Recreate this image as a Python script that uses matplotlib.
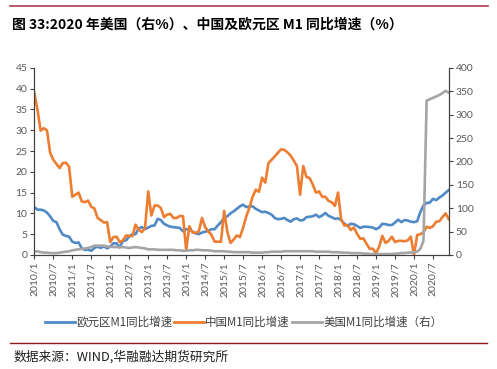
import numpy as np
import matplotlib
matplotlib.use("Agg")
import matplotlib.pyplot as plt
from matplotlib.lines import Line2D

plt.rcParams['font.family'] = ['Noto Sans CJK SC', 'DejaVu Sans']

# monthly, 2010/1 .. 2020/12
months = [f"{y}/{m}" for y in range(2010, 2021) for m in range(1, 13)]

euro_m1 = [11.5, 10.9, 10.9, 10.7, 10.2, 9.3, 8.2, 7.9, 6.2, 4.9, 4.6, 4.4,
           3.2, 2.9, 3.0, 1.6, 1.2, 1.3, 1.0, 1.7, 2.0, 1.7, 2.1, 1.6,
           2.0, 2.8, 2.8, 1.8, 3.4, 3.5, 4.5, 5.0, 5.0, 6.4, 6.7, 6.2,
           6.6, 7.0, 7.1, 8.7, 8.4, 7.5, 7.1, 6.8, 6.7, 6.6, 6.5, 5.7,
           6.2, 6.2, 5.6, 5.2, 5.0, 5.4, 5.6, 5.8, 6.2, 6.2, 7.1, 7.9,
           9.0, 9.3, 10.0, 10.5, 11.1, 11.7, 12.1, 11.5, 11.7, 11.7, 11.1, 10.7,
           10.3, 10.4, 10.1, 9.7, 8.9, 8.6, 8.7, 8.9, 8.4, 8.0, 8.6, 8.8,
           8.3, 8.4, 9.1, 9.2, 9.3, 9.7, 9.1, 9.5, 10.1, 9.4, 9.1, 8.7,
           8.8, 8.4, 7.5, 7.0, 7.5, 7.4, 7.0, 6.5, 6.8, 6.8, 6.7, 6.6,
           6.2, 6.6, 7.5, 7.4, 7.2, 7.2, 7.8, 8.5, 7.9, 8.4, 8.3, 8.0,
           7.9, 8.1, 10.3, 11.9, 12.5, 12.6, 13.5, 13.2, 13.8, 14.3, 15.0, 15.6]

china_m1 = [39.0, 35.0, 29.9, 30.5, 30.0, 24.6, 22.9, 21.9, 20.9, 22.1, 22.2, 21.2,
            14.0, 14.5, 15.0, 12.9, 12.7, 13.1, 11.6, 11.2, 8.9, 8.4, 7.8, 7.9,
            3.1, 4.3, 4.4, 3.1, 3.5, 4.7, 4.6, 4.5, 7.3, 6.1, 5.5, 6.5,
            15.3, 9.5, 11.9, 11.9, 11.3, 9.1, 9.7, 9.9, 8.9, 8.9, 9.4, 9.3,
            1.2, 6.9, 5.4, 5.3, 5.7, 8.9, 6.7, 5.7, 4.8, 3.2, 3.2, 3.2,
            10.6, 5.6, 2.9, 3.7, 4.7, 4.3, 6.6, 9.3, 11.4, 14.0, 15.7, 15.2,
            18.6, 17.4, 22.1, 22.9, 23.7, 24.6, 25.4, 25.3, 24.7, 23.9, 22.7, 21.4,
            14.5, 21.4, 18.8, 18.5, 17.0, 15.0, 15.3, 14.0, 14.0, 13.0, 12.7, 11.8,
            15.0, 8.5, 7.1, 7.2, 6.0, 6.6, 5.1, 3.9, 4.0, 2.7, 1.5, 1.5,
            0.4, 2.0, 4.6, 2.9, 3.4, 4.4, 3.1, 3.4, 3.4, 3.3, 3.5, 4.4,
            0.0, 4.8, 5.0, 5.5, 6.8, 6.5, 6.9, 8.0, 8.1, 9.1, 10.0, 8.6]

us_m1 = [7, 8, 6, 5, 5, 4, 4, 4, 5, 6, 7, 8,
         10, 11, 12, 13, 14, 15, 17, 20, 20, 20, 20, 18,
         18, 17, 17, 17, 17, 16, 15, 16, 17, 16, 15, 14,
         12, 12, 12, 11, 11, 11, 11, 11, 11, 10, 10, 9,
         9, 10, 10, 11, 11, 10, 10, 10, 9, 8, 8, 8,
         8, 7, 7, 6, 6, 6, 6, 6, 6, 5, 5, 5,
         5, 6, 6, 7, 7, 7, 7, 8, 8, 8, 8, 8,
         8, 8, 8, 8, 8, 7, 7, 7, 7, 7, 6, 6,
         6, 5, 5, 5, 4, 4, 4, 4, 3, 3, 2, 2,
         2, 2, 2, 2, 2, 2, 3, 3, 4, 4, 5, 5,
         6, 7, 13, 30, 330, 333, 336, 339, 342, 346, 351, 347]

labels = ["欧元区M1同比增速", "中国M1同比增速", "美国M1同比增速（右）"]
colors = ["#4f8ac6", "#ed7d31", "#a5a5a5"]

fig = plt.figure(figsize=(4.97, 3.69), dpi=100)
ax = fig.add_axes([0.069, 0.309, 0.834, 0.507])
ax2 = ax.twinx()

x = np.arange(len(months))
ax.plot(x, euro_m1, color=colors[0], lw=1.9)
ax.plot(x, china_m1, color=colors[1], lw=1.9)
ax2.plot(x, us_m1, color=colors[2], lw=1.9)

ax.set_xlim(0, len(months) - 1)
ax.set_ylim(0, 45)
ax2.set_ylim(0, 400)
ax.set_yticks(range(0, 46, 5))
ax2.set_yticks(range(0, 401, 50))
ax.set_xticks(x[::6])
ax.set_xticklabels(months[::6], rotation=90, family=['Lato', 'DejaVu Sans'])

for a in (ax, ax2):
    a.spines['top'].set_visible(False)
    for s in a.spines.values():
        s.set_color('#404040')
        s.set_linewidth(0.8)
    a.tick_params(labelsize=7.5, colors='#404040', labelcolor='#595959', length=3, width=0.8, pad=2)
for t in ax.get_yticklabels() + ax2.get_yticklabels():
    t.set_family(['Lato', 'DejaVu Sans'])

handles = [Line2D([0], [0], color=c, lw=2.0) for c in colors]
fig.legend(handles, labels, loc='center', bbox_to_anchor=(0.49, 0.127), ncol=3,
           frameon=False, fontsize=8.3, handlelength=2.6, handletextpad=0.1,
           columnspacing=0.2, labelcolor='#404040')

fig.text(0.024, 0.932, "图 33:2020 年美国（右%）、中国及欧元区 M1 同比增速（%）",
         fontsize=10, fontweight='bold', va='center', ha='left')
fig.text(0.028, 0.032, "数据来源：WIND,华融融达期货研究所", fontsize=9.2,
         va='center', ha='left', color='#202020')

fig.add_artist(Line2D([0.02, 0.982], [0.984, 0.984], color='#a8404a', lw=1.2))
fig.add_artist(Line2D([0.02, 0.98], [0.0705, 0.0705], color='#8b1a1a', lw=1.0))

fig.savefig("out.png", dpi=100)
